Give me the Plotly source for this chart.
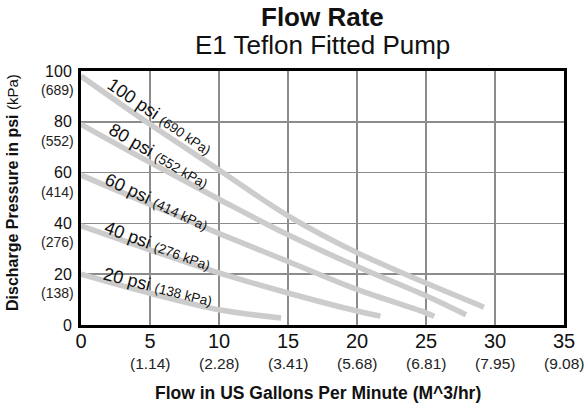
import plotly.graph_objects as go

# ---- data ----
flow_100 = [0, 5, 10, 15, 20, 25, 29.2]
psi_100 = [98, 79, 61, 43, 28.5, 16.5, 7]
flow_80 = [0, 5, 10, 15, 20, 25, 27.9]
psi_80 = [79, 64, 49.5, 35.5, 23, 11.5, 4]
flow_60 = [0, 5, 10, 15, 20, 25, 25.6]
psi_60 = [59, 47.5, 36, 25, 14, 4.8, 3.4]
flow_40 = [0, 5, 10, 15, 20, 21.7]
psi_40 = [39, 29.6, 20.5, 12.6, 5.5, 3.5]
flow_20 = [0, 5, 10, 14.5]
psi_20 = [20, 12.5, 6, 2.8]

curve_names = ["100 psi", "80 psi", "60 psi", "40 psi", "20 psi"]
curve_kpa = ["(690 kPa)", "(552 kPa)", "(414 kPa)", "(276 kPa)", "(138 kPa)"]
label_x = [5.75, 5.65, 5.5, 5.6, 5.6]
label_y = [82.0, 66.5, 48.5, 31.3, 14.8]
label_angle = [34, 30, 25, 20, 14]

x_ticks = [0, 5, 10, 15, 20, 25, 30, 35]
x_kpa = ["", "(1.14)", "(2.28)", "(3.41)", "(5.68)", "(6.81)", "(7.95)", "(9.08)"]
y_ticks = [0, 20, 40, 60, 80, 100]
y_kpa = ["", "(138)", "(276)", "(414)", "(552)", "(689)"]

FONT = "Liberation Sans, Arial, sans-serif"
CURVE_COLOR = "#cccccc"

fig = go.Figure()
series = [(flow_100, psi_100), (flow_80, psi_80), (flow_60, psi_60),
          (flow_40, psi_40), (flow_20, psi_20)]
for (fx, py), name in zip(series, curve_names):
    fig.add_trace(go.Scatter(x=fx, y=py, mode="lines", name=name,
                             line=dict(color=CURVE_COLOR, width=5.5, shape="spline", smoothing=1.0),
                             showlegend=False, hoverinfo="skip"))

annotations = []
for n, k, lx, ly, ang in zip(curve_names, curve_kpa, label_x, label_y, label_angle):
    annotations.append(dict(
        x=lx, y=ly, xref="x", yref="y", showarrow=False, textangle=ang,
        text=f"{n} <span style='font-size:13.5px'>{k}</span>",
        font=dict(family=FONT, size=18, color="#111111")))

for v, t in zip(x_ticks, x_kpa):
    if t:
        annotations.append(dict(x=v, y=0, xref="x", yref="paper", showarrow=False,
                                text=t, yanchor="middle", yshift=-38,
                                font=dict(family=FONT, size=15.5, color="#222222")))
for v, t in zip(y_ticks, y_kpa):
    if t:
        annotations.append(dict(x=0, y=v, xref="paper", yref="y", showarrow=False,
                                text=t, xanchor="right", yanchor="middle", xshift=-5, yshift=-19,
                                font=dict(family=FONT, size=14, color="#222222")))

# title (two lines)
annotations.append(dict(x=0.5, y=1, xref="paper", yref="paper", showarrow=False,
                        yanchor="middle", yshift=54,
                        text="<b>Flow Rate</b>",
                        font=dict(family=FONT, size=26, color="#111111")))
annotations.append(dict(x=0.5, y=1, xref="paper", yref="paper", showarrow=False,
                        yanchor="middle", yshift=26,
                        text="E1 Teflon Fitted Pump",
                        font=dict(family=FONT, size=26, color="#111111")))
# axis titles
annotations.append(dict(x=0.49, y=0, xref="paper", yref="paper", showarrow=False,
                        yanchor="middle", yshift=-68,
                        text="<b>Flow in US Gallons Per Minute (M^3/hr)</b>",
                        font=dict(family=FONT, size=17.5, color="#111111")))
annotations.append(dict(x=0, y=0.5, xref="paper", yref="paper", showarrow=False,
                        xanchor="center", xshift=-69, yshift=5, textangle=-90,
                        text="<b>Discharge Pressure in psi</b> <span style='font-size:15px'>(kPa)</span>",
                        font=dict(family=FONT, size=16, color="#111111")))

fig.update_layout(
    width=585, height=411,
    margin=dict(l=81, r=21, t=71, b=86, autoexpand=False),
    paper_bgcolor="white", plot_bgcolor="white",
    annotations=annotations,
    xaxis=dict(range=[0, 35], tickvals=x_ticks, ticktext=[str(v) for v in x_ticks],
               showgrid=True, gridcolor="#8c8c8c", gridwidth=1.5,
               showline=True, mirror=True, linecolor="black", linewidth=3,
               zeroline=False, ticks="", ticklabelstandoff=-4, automargin=False,
               tickfont=dict(family=FONT, size=20, color="#111111")),
    yaxis=dict(range=[0, 100], tickvals=y_ticks, ticktext=[str(v) for v in y_ticks],
               showgrid=True, gridcolor="#8c8c8c", gridwidth=1.5,
               showline=True, mirror=True, linecolor="black", linewidth=3,
               zeroline=False, ticks="", ticklabelstandoff=3, automargin=False,
               tickfont=dict(family=FONT, size=16, color="#111111")),
)

# remove the default 8 px page margin so the figure sits at the window's top-left corner
fig.write_html("out.html", config={"displayModeBar": False, "staticPlot": True},
               post_script="document.body.style.margin='0';document.body.style.overflow='hidden';")
